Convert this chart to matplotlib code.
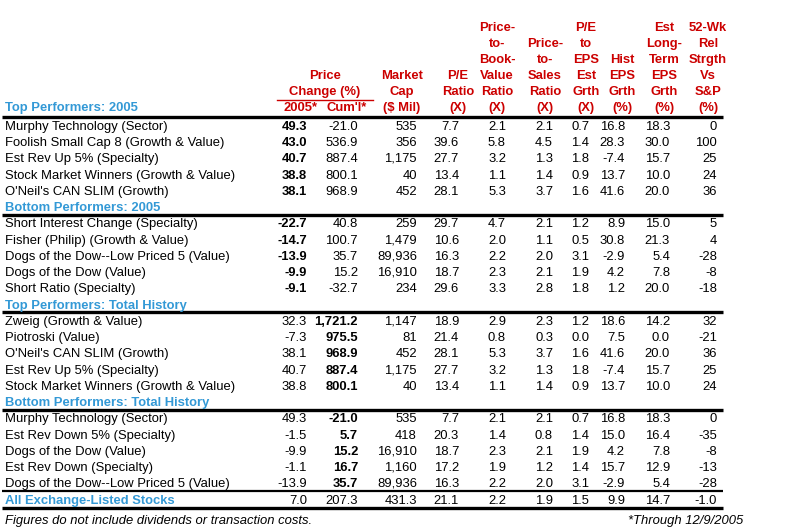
import matplotlib
matplotlib.use("Agg")
import matplotlib.pyplot as plt
import numpy as np

plt.rcParams['font.family'] = ['Liberation Sans', 'DejaVu Sans']

# ---- data ----
sections = ["Top Performers: 2005", "Bottom Performers: 2005",
            "Top Performers: Total History", "Bottom Performers: Total History"]

names = [
    ["Murphy Technology (Sector)", "Foolish Small Cap 8 (Growth & Value)",
     "Est Rev Up 5% (Specialty)", "Stock Market Winners (Growth & Value)",
     "O'Neil's CAN SLIM (Growth)"],
    ["Short Interest Change (Specialty)", "Fisher (Philip) (Growth & Value)",
     "Dogs of the Dow--Low Priced 5 (Value)", "Dogs of the Dow (Value)",
     "Short Ratio (Specialty)"],
    ["Zweig (Growth & Value)", "Piotroski (Value)", "O'Neil's CAN SLIM (Growth)",
     "Est Rev Up 5% (Specialty)", "Stock Market Winners (Growth & Value)"],
    ["Murphy Technology (Sector)", "Est Rev Down 5% (Specialty)",
     "Dogs of the Dow (Value)", "Est Rev Down (Specialty)",
     "Dogs of the Dow--Low Priced 5 (Value)"],
]

# 2005, cum, mktcap, pe, pb, ps, pe/eps, hist eps, est lt eps, rel strength
values = [
    [[49.3, -21.0, 535, 7.7, 2.1, 2.1, 0.7, 16.8, 18.3, 0],
     [43.0, 536.9, 356, 39.6, 5.8, 4.5, 1.4, 28.3, 30.0, 100],
     [40.7, 887.4, 1175, 27.7, 3.2, 1.3, 1.8, -7.4, 15.7, 25],
     [38.8, 800.1, 40, 13.4, 1.1, 1.4, 0.9, 13.7, 10.0, 24],
     [38.1, 968.9, 452, 28.1, 5.3, 3.7, 1.6, 41.6, 20.0, 36]],
    [[-22.7, 40.8, 259, 29.7, 4.7, 2.1, 1.2, 8.9, 15.0, 5],
     [-14.7, 100.7, 1479, 10.6, 2.0, 1.1, 0.5, 30.8, 21.3, 4],
     [-13.9, 35.7, 89936, 16.3, 2.2, 2.0, 3.1, -2.9, 5.4, -28],
     [-9.9, 15.2, 16910, 18.7, 2.3, 2.1, 1.9, 4.2, 7.8, -8],
     [-9.1, -32.7, 234, 29.6, 3.3, 2.8, 1.8, 1.2, 20.0, -18]],
    [[32.3, 1721.2, 1147, 18.9, 2.9, 2.3, 1.2, 18.6, 14.2, 32],
     [-7.3, 975.5, 81, 21.4, 0.8, 0.3, 0.0, 7.5, 0.0, -21],
     [38.1, 968.9, 452, 28.1, 5.3, 3.7, 1.6, 41.6, 20.0, 36],
     [40.7, 887.4, 1175, 27.7, 3.2, 1.3, 1.8, -7.4, 15.7, 25],
     [38.8, 800.1, 40, 13.4, 1.1, 1.4, 0.9, 13.7, 10.0, 24]],
    [[49.3, -21.0, 535, 7.7, 2.1, 2.1, 0.7, 16.8, 18.3, 0],
     [-1.5, 5.7, 418, 20.3, 1.4, 0.8, 1.4, 15.0, 16.4, -35],
     [-9.9, 15.2, 16910, 18.7, 2.3, 2.1, 1.9, 4.2, 7.8, -8],
     [-1.1, 16.7, 1160, 17.2, 1.9, 1.2, 1.4, 15.7, 12.9, -13],
     [-13.9, 35.7, 89936, 16.3, 2.2, 2.0, 3.1, -2.9, 5.4, -28]],
]
bold_col = [0, 0, 1, 1]   # which price-change column is bold per section

all_name = "All Exchange-Listed Stocks"
all_values = [7.0, 207.3, 431.3, 21.1, 2.2, 1.9, 1.5, 9.9, 14.7, -1.0]

headers = [
    ["2005*"], ["Cum'l*"],
    ["Market", "Cap", "($ Mil)"],
    ["P/E", "Ratio", "(X)"],
    ["Price-", "to-", "Book-", "Value", "Ratio", "(X)"],
    ["Price-", "to-", "Sales", "Ratio", "(X)"],
    ["P/E", "to", "EPS", "Est", "Grth", "(X)"],
    ["Hist", "EPS", "Grth", "(%)"],
    ["Est", "Long-", "Term", "EPS", "Grth", "(%)"],
    ["52-Wk", "Rel", "Strgth", "Vs", "S&P", "(%)"],
]
formats = ["{:.1f}", "{:,.1f}", "{:,.0f}", "{:.1f}", "{:.1f}", "{:.1f}",
           "{:.1f}", "{:.1f}", "{:.1f}", "{:.0f}"]
all_formats = ["{:.1f}", "{:,.1f}", "{:,.1f}", "{:.1f}", "{:.1f}", "{:.1f}",
               "{:.1f}", "{:.1f}", "{:.1f}", "{:.1f}"]

# ---- layout ----
col_right = [307, 358, 417, 459, 506, 553, 589, 625, 670, 717]
col_center = [301, 347, 402, 458, 497, 545, 586, 622, 664, 708]
red = "#CC0000"
blue = "#3399D6"
fs = 9.4
off = 4.6          # centre -> baseline
y0 = 125.7
pitch = 16.25
x_left, x_right = 2, 723

fig = plt.figure(figsize=(8, 5.29), dpi=100)
ax = fig.add_axes([0, 0, 1, 1])
ax.set_xlim(0, 800)
ax.set_ylim(529, 0)
ax.axis("off")


def put(x, y, s, **kw):
    # snap baseline to a pixel; agg drops plain strings with a comma 1px
    yb = np.floor(y + off) + 0.25
    if "," in s and kw.get("fontweight", "normal") == "normal":
        yb -= 1
    ax.text(x, yb, s, fontsize=fs, va="baseline", **kw)


def rule(y, lw):
    ax.plot([x_left, x_right], [y, y], color="black", lw=lw,
            solid_capstyle="butt")


# column headers
hdr_bottom = 107
for c, lines in enumerate(headers):
    n = len(lines)
    for k, t in enumerate(lines):
        put(col_center[c], hdr_bottom - (n - 1 - k) * 16, t, color=red,
            fontweight="bold", ha="center")
put(325, 75, "Price", color=red, fontweight="bold", ha="center")
put(325, 91, "Change (%)", color=red, fontweight="bold", ha="center")
ax.plot([277, 373], [99.5, 99.5], color=red, lw=1.0)

row = 0
for s in range(len(sections)):
    if s == 0:
        put(5, 107, sections[s], color=blue, fontweight="bold")
    else:
        put(5, y0 + row * pitch, sections[s], color=blue, fontweight="bold")
        row += 1
    rule(round(y0 + row * pitch - 8.5), 2.4)
    for i in range(len(names[s])):
        y = y0 + row * pitch
        put(5, y, names[s][i])
        for c, v in enumerate(values[s][i]):
            w = "bold" if c == bold_col[s] else "normal"
            put(col_right[c], y, formats[c].format(v), fontweight=w, ha="right")
        row += 1

# all stocks row
y = y0 + row * pitch
rule(round(y - 8), 1.6)
put(5, y, all_name, color=blue, fontweight="bold")
for c, v in enumerate(all_values):
    put(col_right[c], y, all_formats[c].format(v), ha="right")
rule(round(y + 9), 2.4)

put(5, 520, "Figures do not include dividends or transaction costs.",
    style="italic")
put(743, 520, "*Through 12/9/2005", style="italic", ha="right")

fig.savefig("out.png", dpi=100)
